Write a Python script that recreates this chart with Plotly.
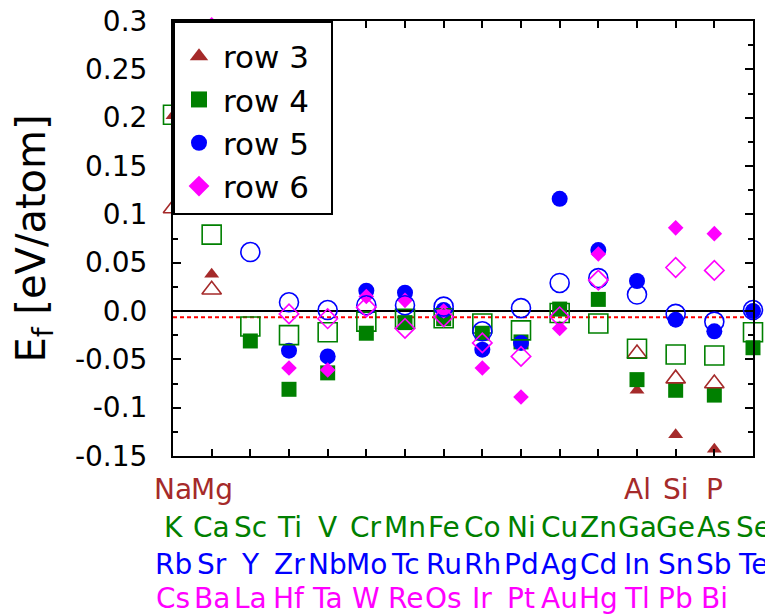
import plotly.graph_objects as go

N = None
columns = list(range(1, 17))
row3_labels = ["Na", "Mg", "", "", "", "", "", "", "", "", "", "", "Al", "Si", "P", ""]
row4_labels = ["K", "Ca", "Sc", "Ti", "V", "Cr", "Mn", "Fe", "Co", "Ni", "Cu", "Zn", "Ga", "Ge", "As", "Se"]
row5_labels = ["Rb", "Sr", "Y", "Zr", "Nb", "Mo", "Tc", "Ru", "Rh", "Pd", "Ag", "Cd", "In", "Sn", "Sb", "Te"]
row6_labels = ["Cs", "Ba", "La", "Hf", "Ta", "W", "Re", "Os", "Ir", "Pt", "Au", "Hg", "Tl", "Pb", "Bi", ""]

row3_filled = [0.202, 0.038, N, N, N, N, N, N, N, N, N, N, -0.082, -0.128, -0.143, N]
row3_open = [0.106, 0.022, N, N, N, N, N, N, N, N, N, N, -0.044, -0.070, -0.075, N]
row4_filled = [N, N, -0.031, -0.081, -0.064, -0.023, -0.012, -0.008, -0.023, -0.032, 0.002, 0.012,
               -0.071, -0.082, -0.087, -0.038]
row4_open = [0.203, 0.079, -0.016, -0.025, -0.022, -0.011, -0.008, -0.0075, -0.013, -0.020, -0.002, -0.013,
             -0.039, -0.045, -0.046, -0.022]
row5_filled = [N, N, N, -0.041, -0.047, 0.021, 0.019, 0.001, -0.040, -0.033, 0.116, 0.063,
               0.031, -0.009, -0.021, 0.000]
row5_open = [N, N, 0.061, 0.009, 0.001, 0.006, 0.006, 0.0045, -0.021, 0.003, 0.029, 0.034,
             0.017, -0.003, -0.011, 0.001]
row6_filled = [N, 0.296, N, -0.059, -0.061, 0.015, 0.011, 0.000, -0.059, -0.089, -0.018, 0.059,
               N, 0.086, 0.080, N]
row6_open = [N, N, N, -0.003, -0.008, 0.004, -0.018, -0.006, -0.033, -0.047, -0.006, 0.032,
             N, 0.045, 0.042, N]

legend_names = ["row 3", "row 4", "row 5", "row 6"]
y_tickvals = [-0.15, -0.1, -0.05, 0.0, 0.05, 0.1, 0.15, 0.2, 0.25, 0.3]
y_ticktext = ["-0.15", "-0.1", "-0.05", "0.0", "0.05", "0.1", "0.15", "0.2", "0.25", "0.3"]
dotted_level = -0.0065

BROWN = "#A52A2A"
GREEN = "#008000"
BLUE = "#0000FF"
MAGENTA = "#FF00FF"
FONT = "DejaVu Sans, Arial, Liberation Sans, sans-serif"

fig = go.Figure()

colors = [BROWN, GREEN, BLUE, MAGENTA]
filled_symbols = ["triangle-up", "square", "circle", "diamond"]
filled_sizes = [13, 15, 16, 12]
open_symbols = ["triangle-up-open", "square-open", "circle-open", "diamond-open"]
open_sizes = [17, 19, 19, 15]
filled_data = [row3_filled, row4_filled, row5_filled, row6_filled]
open_data = [row3_open, row4_open, row5_open, row6_open]

for vals, col, sym, sz in zip(filled_data, colors, filled_symbols, filled_sizes):
    fig.add_trace(go.Scatter(
        x=columns, y=vals, mode="markers",
        marker=dict(symbol=sym, size=sz, color=col, line=dict(width=0)),
        cliponaxis=False, showlegend=False,
    ))
for vals, col, sym, sz in zip(open_data, colors, open_symbols, open_sizes):
    fig.add_trace(go.Scatter(
        x=columns, y=vals, mode="markers",
        marker=dict(symbol=sym, size=sz, color=col, line=dict(width=1.6, color=col)),
        cliponaxis=False, showlegend=False,
    ))
# legend entries (larger symbols, no data points)
for name, col, sym in zip(legend_names, colors, filled_symbols):
    fig.add_trace(go.Scatter(
        x=[None], y=[None], mode="markers", name=name + "\u00a0\u2009",
        marker=dict(symbol=sym, size=16, color=col, line=dict(width=0)),
        showlegend=True,
    ))

fig.add_shape(type="line", xref="paper", x0=0, x1=1, yref="y", y0=0, y1=0,
              line=dict(color="black", width=2), layer="below")
fig.add_shape(type="line", xref="paper", x0=0, x1=1, yref="y", y0=dotted_level, y1=dotted_level,
              line=dict(color="red", width=2, dash="4px,3px"), layer="below")

label_rows = [(row3_labels, BROWN, -33), (row4_labels, GREEN, -71),
              (row5_labels, BLUE, -108), (row6_labels, MAGENTA, -142)]
for labels, col, shift in label_rows:
    for xi, lab in zip(columns, labels):
        if lab:
            fig.add_annotation(x=xi, y=0, xref="x", yref="paper", text=lab, showarrow=False,
                               xanchor="center", yanchor="middle", yshift=shift,
                               font=dict(size=28, color=col, family=FONT))

fig.add_annotation(x=0, y=0.5, xref="paper", yref="paper", xshift=-140, text="E<sub>f</sub> [eV/atom]",
                   textangle=-90, showarrow=False, xanchor="center", yanchor="middle",
                   font=dict(size=40, color="black", family=FONT))

fig.update_layout(
    width=765, height=606,
    margin=dict(l=165, r=20, t=13, b=158, pad=0, autoexpand=False),
    paper_bgcolor="white", plot_bgcolor="white",
    font=dict(family=FONT, color="black"),
    showlegend=True,
    legend=dict(x=0, y=1, xanchor="left", yanchor="top", bgcolor="white",
                bordercolor="black", borderwidth=2, font=dict(size=31, color="black"),
                tracegroupgap=0, itemsizing="trace", itemwidth=38,
                title=dict(text="\u00a0", font=dict(size=5))),
    xaxis=dict(range=[1, 16], tickvals=columns, showticklabels=False, ticks="inside",
               ticklen=7, tickwidth=2, tickcolor="black", showline=True, linecolor="black",
               linewidth=2, mirror="ticks", showgrid=False, zeroline=False, automargin=False),
    yaxis=dict(range=[-0.15, 0.3], tickvals=y_tickvals, ticktext=y_ticktext, ticks="inside",
               ticklen=8, tickwidth=2, tickcolor="black", showline=True, linecolor="black",
               linewidth=2, mirror="ticks", showgrid=False, zeroline=False, automargin=False,
               ticklabeloverflow="allow",
               tickfont=dict(size=28, color="black", family=FONT), ticklabelstandoff=18,
               minor=dict(dtick=0.025, tick0=0, ticks="inside", ticklen=5, tickwidth=2,
                          tickcolor="black", showgrid=False)),
)

fig.write_html("out.html")
